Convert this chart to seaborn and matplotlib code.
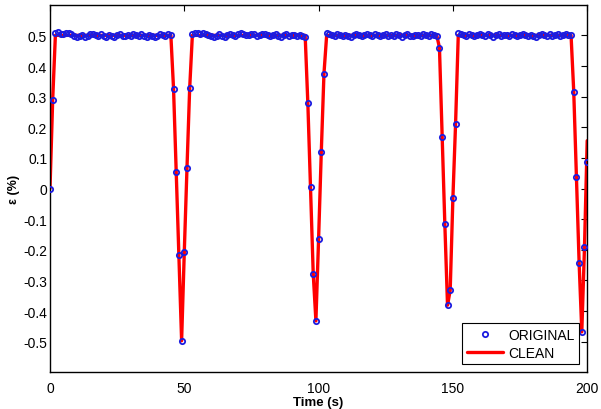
import numpy as np
import pandas as pd
import matplotlib
matplotlib.use("Agg")
import matplotlib.pyplot as plt
import seaborn as sns

# --- values (1 sample per second) ---
rise_start = [0.0, 0.29]
plateau_1 = [0.508, 0.511, 0.506, 0.503, 0.507, 0.509, 0.504, 0.498, 0.495, 0.497,
             0.502, 0.496, 0.499, 0.504, 0.506, 0.501, 0.497, 0.503, 0.499, 0.495,
             0.500, 0.498, 0.496, 0.501, 0.503, 0.497, 0.499, 0.502, 0.498, 0.504,
             0.500, 0.497, 0.505, 0.499, 0.496, 0.502, 0.499, 0.494, 0.497, 0.503,
             0.501, 0.498, 0.506, 0.502]
dip_1 = [0.325, 0.054, -0.218, -0.497, -0.206, 0.067, 0.327]
plateau_2 = [0.505, 0.509, 0.507, 0.503, 0.508, 0.506, 0.501, 0.497, 0.495, 0.499,
             0.503, 0.498, 0.496, 0.501, 0.505, 0.502, 0.499, 0.504, 0.507, 0.503,
             0.500, 0.502, 0.506, 0.504, 0.499, 0.501, 0.505, 0.503, 0.500, 0.497,
             0.502, 0.504, 0.499, 0.496, 0.501, 0.503, 0.498, 0.502, 0.500, 0.497,
             0.501, 0.499, 0.496]
dip_2 = [0.278, 0.004, -0.278, -0.432, -0.164, 0.118, 0.375]
plateau_3 = [0.508, 0.504, 0.501, 0.499, 0.503, 0.500, 0.497, 0.502, 0.499, 0.496,
             0.501, 0.504, 0.500, 0.498, 0.502, 0.505, 0.501, 0.499, 0.503, 0.500,
             0.497, 0.502, 0.504, 0.499, 0.501, 0.498, 0.503, 0.500, 0.496, 0.501,
             0.504, 0.499, 0.497, 0.502, 0.500, 0.498, 0.503, 0.501, 0.499, 0.504,
             0.500, 0.497]
dip_3 = [0.46, 0.168, -0.115, -0.381, -0.332, -0.032, 0.211]
plateau_4 = [0.509, 0.506, 0.502, 0.499, 0.503, 0.500, 0.497, 0.502, 0.505, 0.501,
             0.498, 0.503, 0.500, 0.496, 0.501, 0.504, 0.499, 0.502, 0.500, 0.497,
             0.503, 0.501, 0.498, 0.502, 0.505, 0.500, 0.497, 0.502, 0.499, 0.495,
             0.501, 0.504, 0.500, 0.497, 0.503, 0.499, 0.502, 0.504, 0.498, 0.501,
             0.503, 0.500, 0.502]
dip_4 = [0.316, 0.038, -0.242, -0.468, -0.191, 0.088]
clean_end = 0.156

x_ticks = [0, 50, 100, 150, 200]
y_ticks = [-0.5, -0.4, -0.3, -0.2, -0.1, 0, 0.1, 0.2, 0.3, 0.4, 0.5]
y_tick_labels = ["-0.5", "-0.4", "-0.3", "-0.2", "-0.1", "0", "0.1", "0.2", "0.3", "0.4", "0.5"]

original = (rise_start + plateau_1 + dip_1 + plateau_2 + dip_2
            + plateau_3 + dip_3 + plateau_4 + dip_4)
# the clean signal is flat at 0.5 on the plateaus, follows the dips
clean = (rise_start + [0.5] * len(plateau_1) + dip_1 + [0.5] * len(plateau_2) + dip_2
         + [0.5] * len(plateau_3) + dip_3 + [0.5] * len(plateau_4) + dip_4[:-1] + [clean_end])

df = pd.DataFrame({"time": np.arange(len(original)), "original": original, "clean": clean})

sns.set_style("white")
plt.rcParams["font.family"] = ["Liberation Sans", "DejaVu Sans"]
plt.rcParams["axes.unicode_minus"] = False
plt.rcParams["text.color"] = "black"
plt.rcParams["axes.labelcolor"] = "black"

fig = plt.figure(figsize=(6.01, 4.10), dpi=100)
ax = fig.add_axes([0.0832, 0.0895, 0.8938, 0.8965])

sns.lineplot(data=df, x="time", y="clean", ax=ax, color="red", linewidth=2.4,
             sort=False, estimator=None, label="CLEAN", zorder=2)
sns.lineplot(data=df, x="time", y="original", ax=ax, linestyle="none", marker="o",
             markersize=3.8, markerfacecolor="none", markeredgecolor="#1c1ce0",
             markeredgewidth=1.3, sort=False, estimator=None, label="ORIGINAL", zorder=3)

ax.set_xlim(0, 200)
ax.set_ylim(-0.6, 0.6)
ax.set_xticks(x_ticks)
ax.set_xticklabels([str(v) for v in x_ticks])
ax.set_yticks(y_ticks)
ax.set_yticklabels(y_tick_labels)
ax.tick_params(direction="in", top=True, right=True, length=4, width=0.8,
               labelsize=10, colors="black")
ax.tick_params(axis="y", pad=2)
ax.tick_params(axis="x", pad=6)
for s in ax.spines.values():
    s.set_color("black")
    s.set_linewidth(1.0)

ax.set_xlabel("Time (s)", fontsize=9.5, fontweight="bold", labelpad=1)
ax.set_ylabel("ε (%)", fontsize=9, fontweight="bold", labelpad=2)

handles, labels = ax.get_legend_handles_labels()
leg = ax.legend(handles[::-1], labels[::-1], loc="lower right", fontsize=10,
                frameon=True, fancybox=False, edgecolor="black", framealpha=1,
                handlelength=2.6, borderpad=0.3, labelspacing=0.3,
                handletextpad=0.4, borderaxespad=0.6)
leg.get_frame().set_linewidth(0.8)
for txt in leg.get_texts():
    txt.set_color("black")

fig.savefig("out.png", dpi=100)
